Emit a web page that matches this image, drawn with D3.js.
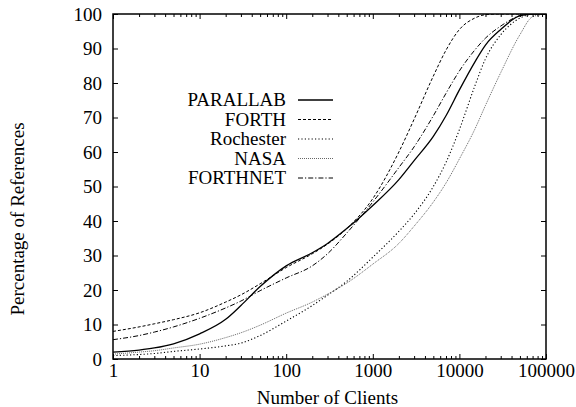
<!DOCTYPE html>
<html>
<head>
<meta charset="utf-8">
<script src="https://cdn.jsdelivr.net/npm/d3@7"></script>
<style>
  body { margin: 0; background: #fff; }
</style>
</head>
<body>
<svg id="chart" width="576" height="407"></svg>
<script>
// Number of clients (x, log scale)
const clients = [1, 2, 3, 5, 10, 20, 30, 50, 100, 200, 300, 500, 1000, 2000, 3000, 5000, 7000, 10000, 15000, 20000, 30000, 50000, 70000, 100000];

// Percentage of references per trace
const parallab  = [2.0, 2.6, 3.2, 4.4, 7.3, 11.5, 15.5, 21.0, 27.0, 30.8, 33.5, 37.8, 44.5, 52.0, 57.5, 64.5, 70.5, 78.0, 86.0, 91.0, 95.5, 99.5, 100, 100];
const forth     = [8.0, 9.3, 10.2, 11.4, 13.4, 16.5, 18.6, 21.8, 26.5, 30.5, 33.3, 37.8, 46.5, 60.0, 69.5, 82.0, 89.5, 95.5, 98.8, 99.8, 100, 100, 100, 100];
const rochester = [1.0, 1.3, 1.6, 2.2, 2.9, 3.8, 4.6, 6.8, 11.0, 15.5, 18.5, 22.5, 29.5, 37.0, 42.0, 50.0, 57.0, 66.5, 79.0, 87.0, 94.0, 98.8, 100, 100];
const nasa      = [1.4, 2.0, 2.4, 3.2, 4.3, 6.2, 7.6, 9.8, 13.3, 16.5, 18.8, 22.0, 27.5, 33.5, 38.5, 45.5, 51.0, 58.0, 66.5, 73.5, 83.0, 94.0, 99.2, 100];
const forthnet  = [5.6, 6.8, 7.8, 9.3, 11.8, 14.8, 16.8, 19.8, 23.5, 27.0, 30.5, 36.5, 45.5, 55.5, 61.5, 70.5, 77.0, 83.5, 89.5, 93.0, 96.5, 99.5, 100, 100];

const seriesNames = ["PARALLAB", "FORTH", "Rochester", "NASA", "FORTHNET"];
const xTicks = [1, 10, 100, 1000, 10000, 100000];
const yTicks = [0, 10, 20, 30, 40, 50, 60, 70, 80, 90, 100];

const series = [
    { name: seriesNames[0], values: parallab,  dash: null,        color: "#000", width: 1.3 },
    { name: seriesNames[1], values: forth,     dash: "3,2",       color: "#000", width: 1 },
    { name: seriesNames[2], values: rochester, dash: "1.2,2.2",   color: "#000", width: 1.1 },
    { name: seriesNames[3], values: nasa,      dash: "1,1",       color: "#666", width: 1 },
    { name: seriesNames[4], values: forthnet,  dash: "5,2,1.2,2", color: "#000", width: 1 }
];

const FONT = "'Liberation Serif', 'Times New Roman', serif";
const fontSize = 19;

const margin = { left: 113, top: 14, right: 30, bottom: 48 };
const width = 576 - margin.left - margin.right;
const height = 407 - margin.top - margin.bottom;

const svg = d3.select("#chart");
const g = svg.append("g").attr("transform", `translate(${margin.left},${margin.top})`);

const x = d3.scaleLog().domain([1, 100000]).range([0, width]);
const y = d3.scaleLinear().domain([0, 100]).range([height, 0]);

// minor ticks for the log axis (2..9 in each decade)
const minorX = [];
for (let d = 1; d < 100000; d *= 10) {
    for (let k = 2; k <= 9; k++) minorX.push(d * k);
}

// curves
const line = d3.line()
    .x(d => x(d[0]))
    .y(d => y(d[1]))
    .curve(d3.curveMonotoneX);

g.append("defs").append("clipPath").attr("id", "clip")
    .append("rect").attr("width", width).attr("height", height);

series.forEach(s => {
    g.append("path")
        .datum(clients.map((c, i) => [c, s.values[i]]))
        .attr("clip-path", "url(#clip)")
        .attr("fill", "none")
        .attr("stroke", s.color)
        .attr("stroke-width", s.width)
        .attr("stroke-dasharray", s.dash)
        .attr("d", line);
});

// axes: gnuplot style, ticks pointing inwards and mirrored
g.append("g")
    .attr("transform", `translate(0,${height})`)
    .call(d3.axisBottom(x).tickValues(xTicks).tickFormat(d3.format("d")).tickSize(-5).tickPadding(5))
    .call(a => a.select(".domain").remove());
g.append("g")
    .attr("transform", `translate(0,${height})`)
    .call(d3.axisBottom(x).tickValues(minorX).tickFormat("").tickSize(-3))
    .call(a => a.select(".domain").remove());
g.append("g")
    .call(d3.axisTop(x).tickValues(xTicks).tickFormat("").tickSize(-5))
    .call(a => a.select(".domain").remove());
g.append("g")
    .call(d3.axisTop(x).tickValues(minorX).tickFormat("").tickSize(-3))
    .call(a => a.select(".domain").remove());
g.append("g")
    .call(d3.axisLeft(y).tickValues(yTicks).tickSize(-5).tickPadding(11))
    .call(a => a.select(".domain").remove());
g.append("g")
    .attr("transform", `translate(${width},0)`)
    .call(d3.axisRight(y).tickValues(yTicks).tickFormat("").tickSize(-5))
    .call(a => a.select(".domain").remove());

g.selectAll(".tick line").attr("stroke", "#000").attr("stroke-width", 1);
g.selectAll(".tick text")
    .style("font-family", FONT)
    .style("font-size", fontSize + "px")
    .attr("fill", "#000");

// frame
g.append("rect")
    .attr("width", width).attr("height", height)
    .attr("fill", "none").attr("stroke", "#000").attr("stroke-width", 1.5);

// axis titles
svg.append("text")
    .attr("x", margin.left + width / 2 - 2)
    .attr("y", 404)
    .attr("text-anchor", "middle")
    .style("font-family", FONT)
    .style("font-size", fontSize + "px")
    .text("Number of Clients");

svg.append("text")
    .attr("transform", "translate(24,219) rotate(-90)")
    .attr("text-anchor", "middle")
    .style("font-family", FONT)
    .style("font-size", fontSize + "px")
    .text("Percentage of References");

// legend
const legend = svg.append("g").attr("transform", "translate(286,100)");
series.forEach((s, i) => {
    const row = legend.append("g").attr("transform", `translate(0,${i * 19.5})`);
    row.append("text")
        .attr("x", 0).attr("y", 6)
        .attr("text-anchor", "end")
        .style("font-family", FONT)
        .style("font-size", fontSize + "px")
        .text(s.name);
    row.append("line")
        .attr("x1", 12).attr("x2", 47)
        .attr("y1", 0).attr("y2", 0)
        .attr("stroke", s.color)
        .attr("stroke-width", s.width)
        .attr("stroke-dasharray", s.dash);
});
</script>
</body>
</html>
